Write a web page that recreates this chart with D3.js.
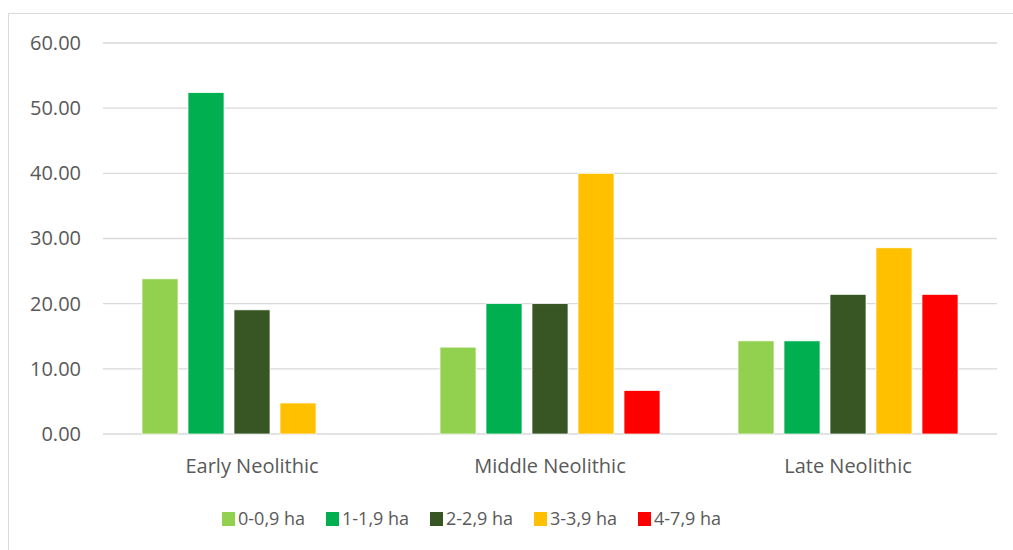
<!DOCTYPE html>
<meta charset="utf-8">
<style>
body { margin: 0; background: #fff; }
.axis text { fill: #595959; }
.grid line { stroke: #d9d9d9; stroke-width: 1.3; }
</style>
<body>
<script src="https://d3js.org/d3.v7.min.js"></script>
<script>
var periods = ["Early Neolithic", "Middle Neolithic", "Late Neolithic"];
var sizes = ["0-0,9 ha", "1-1,9 ha", "2-2,9 ha", "3-3,9 ha", "4-7,9 ha"];
var colors = ["#92d050", "#00b050", "#375623", "#ffc000", "#ff0000"];
var early = [23.81, 52.38, 19.05, 4.76, 0];
var middle = [13.33, 20.00, 20.00, 40.00, 6.67];
var late = [14.29, 14.29, 21.43, 28.57, 21.43];
var yTicks = [0, 10, 20, 30, 40, 50, 60];

var rows = [early, middle, late];
var data = [];
periods.forEach(function(p, i) {
  sizes.forEach(function(s, j) {
    data.push({period: p, size: s, value: rows[i][j]});
  });
});

var W = 1013, H = 550;
var margin = {top: 43, right: 16, bottom: 116, left: 103},
    width = 997 - margin.left,
    height = 434 - margin.top;

var svg = d3.select("body").append("svg")
    .attr("width", W)
    .attr("height", H);

svg.append("rect")
    .attr("x", 8.5).attr("y", 13.5)
    .attr("width", W + 10).attr("height", H + 10)
    .attr("fill", "#fff")
    .attr("stroke", "#d9d9d9");

var g = svg.append("g")
    .attr("transform", "translate(" + margin.left + "," + margin.top + ")");

var x0 = d3.scaleBand().domain(periods).range([0, width]);
var x1 = d3.scaleBand().domain(sizes).range([0, 220]).paddingInner(10 / 46);
var y = d3.scaleLinear().domain([0, 60]).range([height, 0]);
var color = d3.scaleOrdinal().domain(sizes).range(colors);

g.append("g")
    .attr("class", "grid")
    .selectAll("line")
    .data(yTicks)
  .enter().append("line")
    .attr("x1", 0).attr("x2", width)
    .attr("y1", function(d) { return y(d); })
    .attr("y2", function(d) { return y(d); });

var yAxis = g.append("g")
    .attr("class", "axis")
    .call(d3.axisLeft(y).tickValues(yTicks).tickFormat(d3.format(".2f")).tickSize(0).tickPadding(22));
yAxis.select(".domain").remove();
yAxis.selectAll("text")
    .style("font-family", "'Open Sans', sans-serif")
    .style("font-size", "20px");

var off = (x0.bandwidth() - 220) / 2;
g.selectAll(".bar")
    .data(data)
  .enter().append("rect")
    .attr("class", "bar")
    .attr("x", function(d) { return x0(d.period) + off + x1(d.size); })
    .attr("width", x1.bandwidth())
    .attr("y", function(d) { return y(d.value); })
    .attr("height", function(d) { return height - y(d.value); })
    .attr("fill", function(d) { return color(d.size); })
    .attr("stroke", "#fff")
    .attr("stroke-width", 0.7);

var xAxis = g.append("g")
    .attr("class", "axis")
    .attr("transform", "translate(0," + height + ")")
    .call(d3.axisBottom(x0).tickSize(0).tickPadding(25));
xAxis.select(".domain").remove();
xAxis.selectAll("text")
    .style("font-family", "'Open Sans', sans-serif")
    .style("font-size", "20px");

var legend = svg.selectAll(".legend")
    .data(sizes)
  .enter().append("g")
    .attr("class", "legend")
    .attr("transform", function(d, i) { return "translate(" + (222 + i * 104) + ",512)"; });

legend.append("rect")
    .attr("width", 13).attr("height", 14)
    .attr("fill", function(d) { return color(d); });

legend.append("text")
    .attr("x", 16).attr("y", 7)
    .attr("dy", ".35em")
    .style("font-family", "'Open Sans', sans-serif")
    .style("font-size", "18px")
    .attr("fill", "#595959")
    .text(function(d) { return d; });
</script>
